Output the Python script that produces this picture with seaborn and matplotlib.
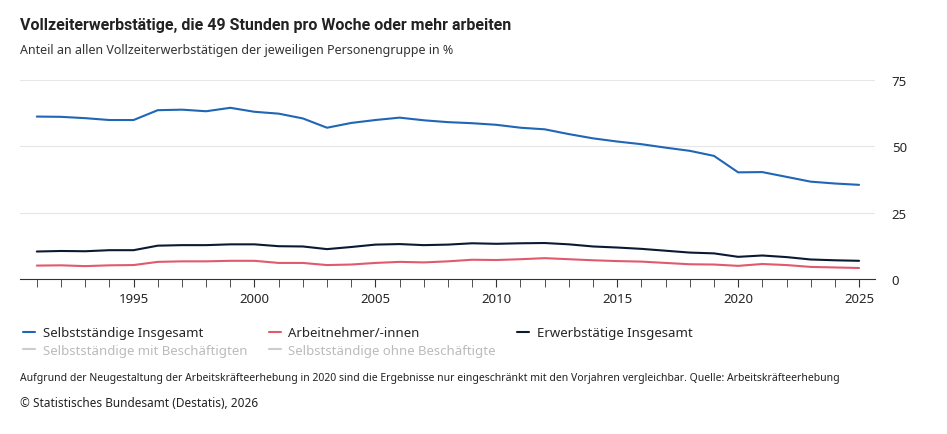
import matplotlib
matplotlib.use("Agg")
import matplotlib.pyplot as plt
from matplotlib.lines import Line2D
import seaborn as sns
import pandas as pd

years = list(range(1991, 2026))
selbst = [61.2,61.1,60.6,59.9,59.9,63.6,63.8,63.2,64.5,63.0,62.3,60.5,57.0,58.8,59.9,60.8,59.8,59.1,58.7,58.1,57.0,56.4,54.6,53.0,51.8,50.8,49.5,48.3,46.4,40.2,40.3,38.5,36.7,36.0,35.5]
arbn = [5.1,5.2,4.9,5.2,5.3,6.5,6.7,6.7,6.9,6.9,6.1,6.1,5.3,5.5,6.1,6.5,6.3,6.7,7.3,7.2,7.5,7.9,7.5,7.1,6.8,6.6,6.1,5.6,5.5,5.0,5.7,5.3,4.6,4.4,4.2]
erw = [10.4,10.6,10.5,10.9,10.9,12.6,12.8,12.8,13.1,13.1,12.4,12.3,11.3,12.1,13.0,13.2,12.8,13.0,13.5,13.3,13.5,13.6,13.1,12.3,11.9,11.4,10.7,10.0,9.7,8.4,8.9,8.3,7.4,7.1,6.9]
names = ["Selbstständige Insgesamt", "Arbeitnehmer/-innen", "Erwerbstätige Insgesamt"]
colors = ["#1f66b5", "#e05a6e", "#0b1a33"]

df = pd.DataFrame({"Jahr": years * 3,
                   "Wert": selbst + arbn + erw,
                   "Gruppe": [names[0]] * 35 + [names[1]] * 35 + [names[2]] * 35})

sns.set_style("white")
plt.rcParams['font.family'] = ['Noto Sans', 'DejaVu Sans']
fig = plt.figure(figsize=(9.47, 4.35), dpi=100)
ax = fig.add_axes([0.021, 0.356, 0.903, 0.458])
sns.lineplot(data=df, x="Jahr", y="Wert", hue="Gruppe", palette=dict(zip(names, colors)),
             linewidth=1.5, ax=ax, legend=False)
ax.set_xlim(1990.3, 2025.66)
ax.set_ylim(0, 75)
ax.yaxis.tick_right()
ax.set_yticks([0, 25, 50, 75])
ax.set_xticks(range(1991, 2026), minor=True)
ax.set_xticks([1995, 2000, 2005, 2010, 2015, 2020, 2025])
ax.tick_params(axis='x', which='both', direction='out', length=6, color='#333333', labelsize=9.5, bottom=True)
ax.tick_params(axis='y', length=0, labelsize=9.5, pad=12)
ax.grid(axis='y', color='#e6e6e6', linewidth=0.8)
for s in ["top", "left", "right"]:
    ax.spines[s].set_visible(False)
ax.spines["bottom"].set_color('#333333')
ax.set_xlabel("")
ax.set_ylabel("")

fig.text(0.021, 0.93, "Vollzeiterwerbstätige, die 49 Stunden pro Woche oder mehr arbeiten",
         fontsize=11.5, fontweight='bold', family=['Roboto', 'DejaVu Sans'], color='#222222')
fig.text(0.021, 0.875, "Anteil an allen Vollzeiterwerbstätigen der jeweiligen Personengruppe in %",
         fontsize=9, color='#333333')

handles = [Line2D([], [], color=colors[0], lw=1.5), Line2D([], [], color='#cccccc', lw=1.5),
           Line2D([], [], color=colors[1], lw=1.5), Line2D([], [], color='#cccccc', lw=1.5),
           Line2D([], [], color=colors[2], lw=1.5)]
labels = [names[0], "Selbstständige mit Beschäftigten", names[1], "Selbstständige ohne Beschäftigte", names[2]]
leg = fig.legend(handles, labels, ncol=3, loc='upper left', bbox_to_anchor=(0.012, 0.275),
                 frameon=False, fontsize=9.5, handlelength=0.9, columnspacing=1.6, labelspacing=0.35,
                 handletextpad=0.6)
for t, l in zip(leg.get_texts(), labels):
    if "Beschäftigt" in l:
        t.set_color('#bbbbbb')
fig.text(0.021, 0.125, "Aufgrund der Neugestaltung der Arbeitskräfteerhebung in 2020 sind die Ergebnisse nur eingeschränkt mit den Vorjahren vergleichbar. Quelle: Arbeitskräfteerhebung",
         fontsize=7.5, color='#222222')
fig.text(0.021, 0.065, "© Statistisches Bundesamt (Destatis), 2026", fontsize=8.5, color='#222222')
fig.savefig("out.png", dpi=100)
